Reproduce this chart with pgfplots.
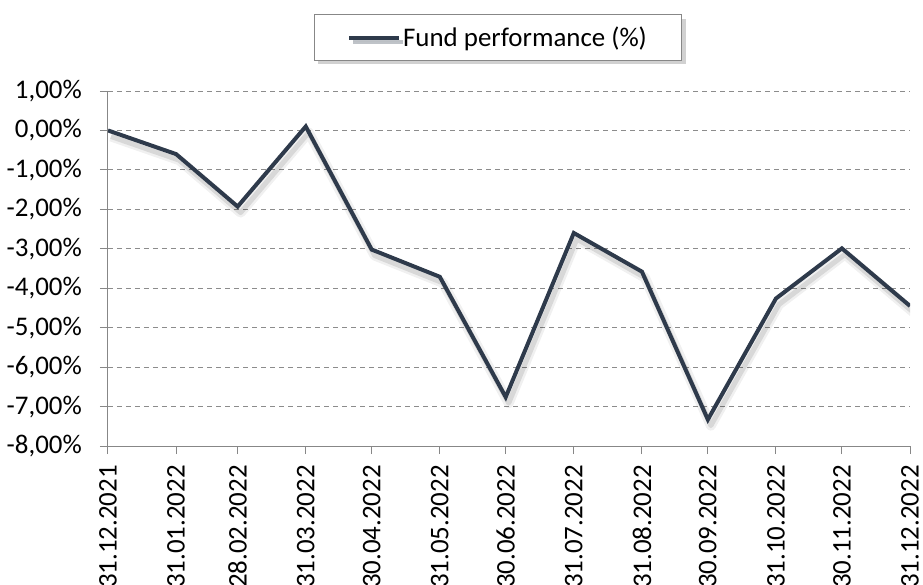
\documentclass[border=0pt]{standalone}
\usepackage{pgfplots}
\pgfplotsset{compat=1.18}
\usepackage{fontspec}
\setmainfont{Carlito}
\usetikzlibrary{shadows}
\definecolor{linec}{HTML}{2E3A4B}
\definecolor{axc}{HTML}{878787}
\definecolor{gridc}{HTML}{8C8C8C}
\begin{document}
\begin{tikzpicture}
\begin{axis}[
  at={(0,0)}, anchor=south west,
  scale only axis, width=802bp, height=355bp,
  xmin=0, xmax=365, ymin=-8, ymax=1,
  axis x line*=bottom, axis y line*=left,
  axis line style={axc, line width=1bp},
  xtick={0,31,59,90,120,151,181,212,243,273,304,334,365},
  xticklabels={31.12.2021,31.01.2022,28.02.2022,31.03.2022,30.04.2022,31.05.2022,30.06.2022,31.07.2022,31.08.2022,30.09.2022,31.10.2022,30.11.2022,31.12.2022},
  xticklabel style={yshift=-11bp, rotate=90, anchor=east, font=\fontsize{27}{30}\selectfont, inner sep=0pt},
  ytick={-8,-7,-6,-5,-4,-3,-2,-1,0,1},
  yticklabels={{-8,00\%},{-7,00\%},{-6,00\%},{-5,00\%},{-4,00\%},{-3,00\%},{-2,00\%},{-1,00\%},{0,00\%},{1,00\%}},
  yticklabel style={font=\fontsize{27}{30}\selectfont, inner sep=0pt, xshift=-18bp},
  tick style={axc, line width=1bp},
  tick align=outside,
  major tick length=8bp,
  ymajorgrids,
  grid style={gridc, dash pattern=on 5bp off 4bp, line width=1bp},
  legend style={at={(0.4863,1.1507)}, anchor=center, draw=axc, line width=1bp,
    fill=white, font=\fontsize{27}{30}\selectfont,
    inner xsep=33bp, inner ysep=10bp,
    drop shadow={shadow xshift=4bp, shadow yshift=-4bp, opacity=0.3, fill=black!60}},
  legend image code/.code={\draw[#1, line width=4bp] (0bp,0bp) -- (50bp,0bp);},
  legend cell align=left,
]
\addplot[forget plot, black, opacity=0.06, line width=10bp, line join=round, shift={(3bp,-6bp)}] coordinates {
(0,0) (31,-0.6) (59,-1.93) (90,0.1) (120,-3.02) (151,-3.71) (181,-6.76) (212,-2.6) (243,-3.58) (273,-7.33) (304,-4.26) (334,-2.99) (365,-4.45)};
\addplot[forget plot, black, opacity=0.10, line width=5bp, line join=round, shift={(3bp,-6bp)}] coordinates {
(0,0) (31,-0.6) (59,-1.93) (90,0.1) (120,-3.02) (151,-3.71) (181,-6.76) (212,-2.6) (243,-3.58) (273,-7.33) (304,-4.26) (334,-2.99) (365,-4.45)};
\addplot[linec, line width=4bp, line join=miter] coordinates {
(0,0) (31,-0.6) (59,-1.93) (90,0.1) (120,-3.02) (151,-3.71) (181,-6.76) (212,-2.6) (243,-3.58) (273,-7.33) (304,-4.26) (334,-2.99) (365,-4.45)};
\addlegendentry{Fund performance (\%)}
\end{axis}
\pgfresetboundingbox
\useasboundingbox (-108bp,-139bp) rectangle (815bp,446bp);
\end{tikzpicture}
\end{document}
